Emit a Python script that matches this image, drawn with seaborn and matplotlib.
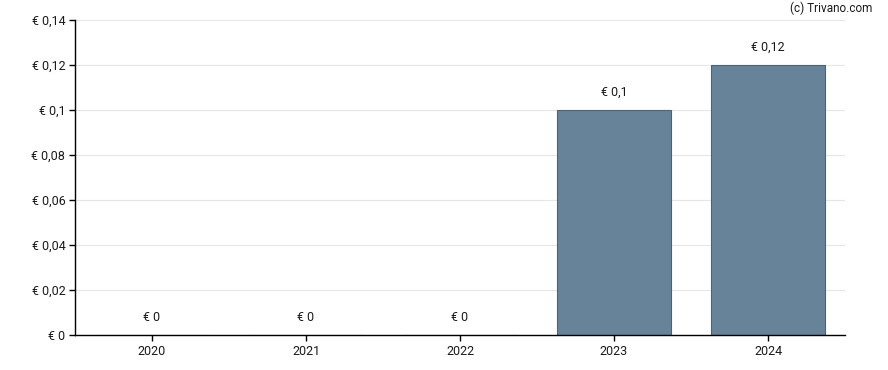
import matplotlib
matplotlib.use("Agg")
import matplotlib.pyplot as plt
import seaborn as sns
import pandas as pd

years = ["2020", "2021", "2022", "2023", "2024"]
dividend = [0.0, 0.0, 0.0, 0.10, 0.12]
labels = ["€ 0", "€ 0", "€ 0", "€ 0,1", "€ 0,12"]
y_ticks = [0, 0.02, 0.04, 0.06, 0.08, 0.10, 0.12, 0.14]
y_tick_labels = ["€ 0", "€ 0,02", "€ 0,04", "€ 0,06", "€ 0,08", "€ 0,1", "€ 0,12", "€ 0,14"]

sns.set_style("white")
plt.rcParams["font.family"] = ["Roboto", "DejaVu Sans"]

data = pd.DataFrame({"year": years, "dividend": dividend})

fig = plt.figure(figsize=(8.88, 3.70), dpi=100)
ax = fig.add_axes([75 / 888, 35 / 370, 770 / 888, 315 / 370])

sns.barplot(data=data, x="year", y="dividend", color="#67839a", saturation=1,
            width=0.74, edgecolor="#4a6377", linewidth=0.8, ax=ax, zorder=2)

for i, (v, txt) in enumerate(zip(dividend, labels)):
    ax.annotate(txt, (i, v), xytext=(0, 8), textcoords="offset points",
                ha="center", va="bottom", fontsize=9, color="#1a1a1a")

ax.set_xlim(-0.5, 4.5)
ax.set_ylim(0, 0.14)
ax.set_yticks(y_ticks)
ax.set_yticklabels(y_tick_labels)
ax.set_xlabel("")
ax.set_ylabel("")
ax.grid(axis="y", color="#e6e6e6", linewidth=0.8, zorder=0)
ax.set_axisbelow(True)
for side in ["top", "right"]:
    ax.spines[side].set_visible(False)
for side in ["left", "bottom"]:
    ax.spines[side].set_color("black")
    ax.spines[side].set_linewidth(1)
ax.tick_params(axis="both", length=4, width=1, color="black", labelsize=9,
               labelcolor="#1a1a1a", pad=3, left=True, bottom=True)

fig.text(872 / 888, 1 - 8 / 370, "(c) Trivano.com", ha="right", va="center",
         fontsize=8.5, color="#1a1a1a")

fig.savefig("out.png", dpi=100)
